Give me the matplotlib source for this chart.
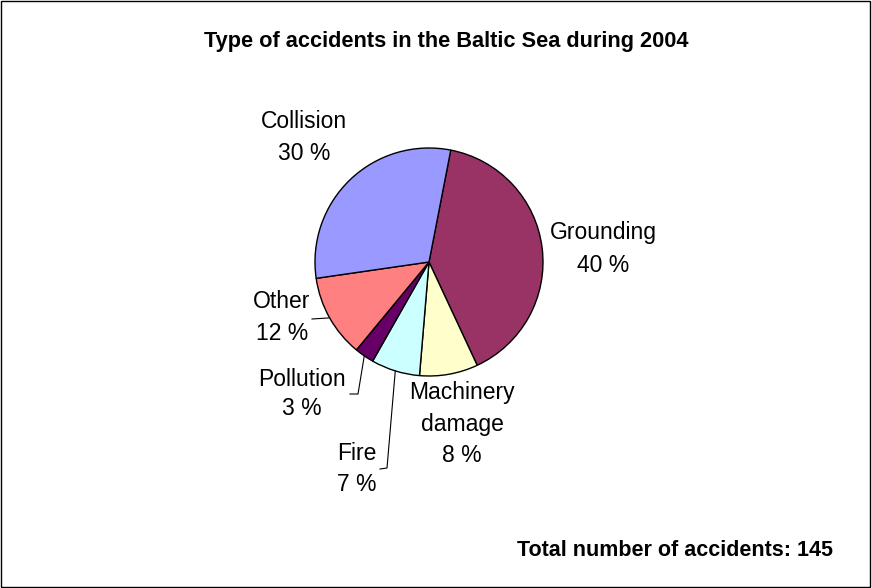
import numpy as np
import matplotlib.pyplot as plt
from matplotlib.patches import Rectangle

plt.rcParams['font.family'] = ['Liberation Sans', 'DejaVu Sans']

# Accidents by type, Baltic Sea 2004 (145 in total)
categories = ["Grounding", "Machinery\ndamage", "Fire", "Pollution", "Other", "Collision"]
counts = [58, 12, 10, 4, 17, 44]
colors = ["#993366", "#FFFFCC", "#CCFFFF", "#660066", "#FF8080", "#9999FF"]

W, H = 872, 588
cx, cy, r = 429, H - 262, 114
start = 79

fig = plt.figure(figsize=(W / 100, H / 100), dpi=100)
ax = fig.add_axes([0, 0, 1, 1])

ax.pie(counts, colors=colors, startangle=start, counterclock=False,
       center=(cx, cy), radius=r, frame=True,
       wedgeprops=dict(edgecolor="black", linewidth=1.0))
ax.set_xlim(0, W)
ax.set_ylim(0, H)
ax.set_aspect("equal")
ax.axis("off")

total = sum(counts)
pcts = [round(100 * c / total) for c in counts]
labels = [f"{name}\n{p} %" for name, p in zip(categories, pcts)]

# label centres (pixel coords, y measured from top) and line spacing
label_pos = [(603, 249), (462, 424), (357, 469), (302, 394), (282, 317), (304, 138)]
spacing = [1.5, 1.45, 1.4, 1.35, 1.5, 1.5]
for lab, (x, y), ls in zip(labels, label_pos, spacing):
    ax.text(x, H - y, lab, ha="center", va="center", fontsize=16.5,
            linespacing=ls)

# leader lines from slice edge to the small labels
frac = np.cumsum([0] + counts) / total
mids = start - 360 * (frac[:-1] + frac[1:]) / 2
def edge(i):
    a = np.radians(mids[i])
    return cx + r * np.cos(a), cy + r * np.sin(a)

leaders = {
    2: [(387, 468), (380, 469)],
    3: [(358, 394), (350, 394)],
    4: [(312, 319)],
}
for i, pts in leaders.items():
    x0, y0 = edge(i)
    xs = [x0] + [p[0] for p in pts]
    ys = [y0] + [H - p[1] for p in pts]
    ax.plot(xs, ys, color="black", linewidth=0.8)

ax.text(446, H - 42, "Type of accidents in the Baltic Sea during 2004",
        ha="center", va="center", fontsize=15.7, fontweight="bold")
ax.text(833, H - 550, "Total number of accidents: 145",
        ha="right", va="center", fontsize=15.5, fontweight="bold")

ax.add_patch(Rectangle((1, 1), W - 3, H - 2, fill=False, edgecolor="black",
                       linewidth=1.0))

fig.savefig("out.png", dpi=100)
